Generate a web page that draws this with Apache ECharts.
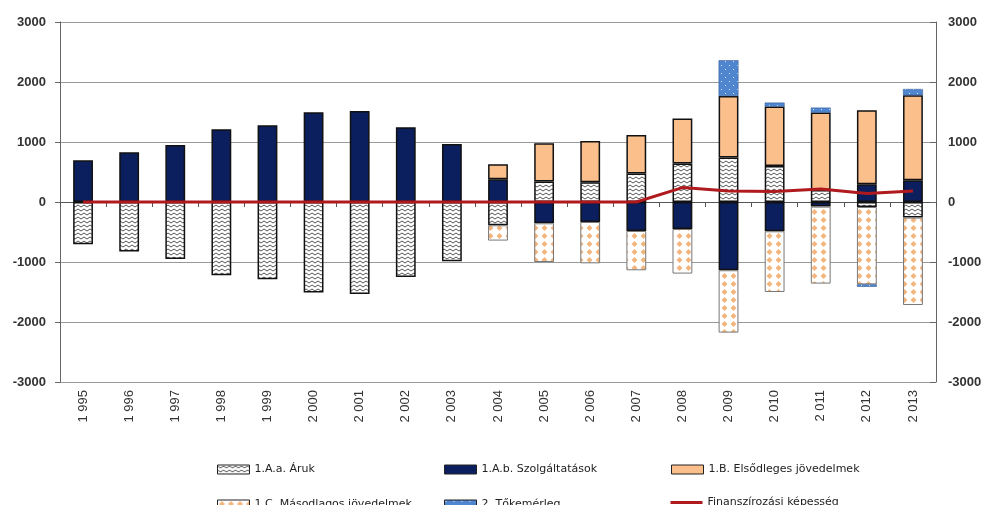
<!DOCTYPE html>
<html>
<head>
<meta charset="utf-8">
<script src="https://cdn.jsdelivr.net/npm/echarts@6/dist/echarts.min.js"></script>
<style>
  html, body { margin: 0; padding: 0; background: #fff; }
  #chart { width: 987px; height: 505px; }
</style>
</head>
<body>
<div id="chart"></div>
<script>
// years and series values (millió EUR)
var years = ['1 995', '1 996', '1 997', '1 998', '1 999', '2 000', '2 001', '2 002', '2 003', '2 004',
             '2 005', '2 006', '2 007', '2 008', '2 009', '2 010', '2 011', '2 012', '2 013'];
var aruk = [-705, -827, -950, -1222, -1288, -1510, -1533, -1250, -988, -388,
            340, 328, 473, 640, 740, 600, 200, -83, -260];
var szolg = [695, 828, 950, 1212, 1278, 1495, 1517, 1245, 967, 378,
             -355, -333, -483, -450, -1138, -488, -77, 295, 362];
var elsodl = ['-', '-', '-', '-', '-', '-', '-', '-', '-', 250,
              638, 689, 644, 750, 1027, 990, 1290, 1233, 1416];
var masodl = ['-', '-', '-', '-', '-', '-', '-', '-', '-', -255,
              -645, -689, -655, -743, -1039, -1012, -1283, -1290, -1457];
var toke = ['-', '-', '-', '-', '-', '-', '-', '-', '-', '-',
            '-', '-', '-', '-', 595, 67, 83, -40, 105];
var finansz = [0, 0, 0, 0, 0, 0, 0, 0, 0, 0,
               0, 0, 0, 240, 183, 173, 215, 140, 183];
var yTicks = [-3000, 3000, 1000];

var names = ['1.A.a. Áruk', '1.A.b. Szolgáltatások', '1.B. Elsődleges jövedelmek',
             '1.C. Másodlagos jövedelmek', '2. Tőkemérleg', 'Finanszírozási képesség'];

function makeTile(w, h, draw) {
  var c = document.createElement('canvas');
  c.width = w; c.height = h;
  draw(c.getContext('2d'));
  return { image: c, repeat: 'repeat' };
}

var wavePattern = makeTile(6, 4, function(ctx) {
  ctx.fillStyle = '#fff';
  ctx.fillRect(0, 0, 6, 4);
  ctx.strokeStyle = '#555';
  ctx.lineWidth = 1;
  ctx.beginPath();
  ctx.moveTo(0, 1);
  ctx.lineTo(3, 3);
  ctx.lineTo(6, 1);
  ctx.stroke();
});

var diamondPattern = makeTile(9, 8, function(ctx) {
  ctx.fillStyle = '#fff';
  ctx.fillRect(0, 0, 9, 8);
  ctx.fillStyle = '#f3b57e';
  ctx.beginPath();
  ctx.moveTo(4.5, 1);
  ctx.lineTo(7.5, 4);
  ctx.lineTo(4.5, 7);
  ctx.lineTo(1.5, 4);
  ctx.closePath();
  ctx.fill();
});

var dotPattern = makeTile(8, 8, function(ctx) {
  ctx.fillStyle = '#4f86cf';
  ctx.fillRect(0, 0, 8, 8);
  ctx.fillStyle = '#dce9fa';
  ctx.fillRect(1, 1, 1, 1);
  ctx.fillRect(5, 5, 1, 1);
});

function barSeries(name, data, color, border, bw) {
  return {
    name: name,
    type: 'bar',
    stack: 'all',
    barWidth: '43%',
    data: data,
    itemStyle: { color: color, borderColor: border, borderWidth: bw },
    animation: false
  };
}

var labelFont = {
  fontFamily: 'Liberation Sans', fontSize: 13, fontWeight: 'bold', color: '#333',
  formatter: function(v) { return String(v); }
};

function legendAt(name, left, top, h) {
  return {
    data: [{ name: name, icon: 'rect' }],
    left: left,
    top: top,
    itemWidth: 32,
    itemHeight: h || 9,
    itemGap: 4,
    itemStyle: { borderColor: '#222', borderWidth: 1 },
    textStyle: { fontFamily: 'DejaVu Sans', fontSize: 11, color: '#222' }
  };
}

// line legend: keep the line, hide the marker
var lineLegend = legendAt(names[5], 664, 492, 10);
lineLegend.data = [names[5]];
lineLegend.itemStyle = { opacity: 0 };
lineLegend.lineStyle = { width: 3, color: '#b01a1e' };

var chart = echarts.init(document.getElementById('chart'), null, { renderer: 'canvas' });
chart.setOption({
  animation: false,
  grid: { left: 60, right: 51, top: 22, bottom: 123 },
  legend: [
    legendAt(names[0], 212, 459),
    legendAt(names[1], 439, 459),
    legendAt(names[2], 666, 459),
    legendAt(names[3], 212, 494),
    legendAt(names[4], 439, 494),
    lineLegend
  ],
  xAxis: [{
    type: 'category',
    data: years,
    position: 'bottom',
    axisLine: { onZero: true, lineStyle: { color: '#555', width: 1 } },
    axisTick: { show: true, length: 5, lineStyle: { color: '#555' } },
    axisLabel: { show: false }
  }, {
    type: 'category',
    data: years,
    position: 'bottom',
    axisLine: { show: false, onZero: false },
    axisTick: { show: false },
    axisLabel: { rotate: 90, margin: 8, fontFamily: 'Liberation Sans', fontSize: 13, color: '#333' }
  }],
  yAxis: [{
    type: 'value',
    min: yTicks[0], max: yTicks[1], interval: yTicks[2],
    axisLine: { show: true, lineStyle: { color: '#666' } },
    axisTick: { show: true, length: 5, lineStyle: { color: '#666' } },
    axisLabel: Object.assign({ margin: 14 }, labelFont),
    splitLine: { lineStyle: { color: '#999', width: 1 } }
  }, {
    type: 'value',
    position: 'right',
    min: yTicks[0], max: yTicks[1], interval: yTicks[2],
    axisLine: { show: true, lineStyle: { color: '#666' } },
    axisTick: { show: true, inside: true, length: 6, lineStyle: { color: '#666' } },
    axisLabel: Object.assign({ margin: 12 }, labelFont),
    splitLine: { show: false }
  }],
  series: [
    barSeries(names[0], aruk, wavePattern, '#111', 1.5),
    barSeries(names[1], szolg, '#0b1f5e', '#111', 1.5),
    barSeries(names[2], elsodl, '#fbbf8c', '#111', 1.5),
    barSeries(names[3], masodl, diamondPattern, '#777', 1),
    barSeries(names[4], toke, dotPattern, '#2a4f8a', 0.5),
    {
      name: names[5],
      type: 'line',
      data: finansz,
      symbol: 'none',
      z: 5,
      lineStyle: { color: '#b01a1e', width: 3 },
      itemStyle: { color: '#b01a1e' },
      animation: false
    }
  ]
});
</script>
</body>
</html>
